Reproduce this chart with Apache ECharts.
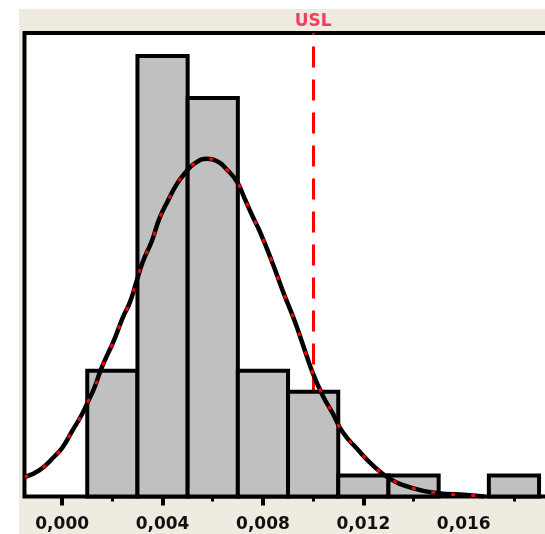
<!DOCTYPE html>
<html>
<head>
<meta charset="utf-8">
<script src="https://cdn.jsdelivr.net/npm/echarts@6/dist/echarts.min.js"></script>
<style>
html,body{margin:0;padding:0;background:#fff;overflow:hidden;}
#c{width:545px;height:534px;}
</style>
</head>
<body>
<div id="c"></div>
<script>
// Histogram bins (value axis) and counts
const binStarts = [0.001, 0.003, 0.005, 0.007, 0.009, 0.011, 0.013, 0.015, 0.017];
const binEnds   = [0.003, 0.005, 0.007, 0.009, 0.011, 0.013, 0.015, 0.017, 0.019];
const counts    = [6, 21, 19, 6, 5, 1, 1, 0, 1];

// Fitted curve
const curveX = [-0.00149, -0.00090, -0.00030, 0.00002, 0.00042, 0.00078, 0.00102, 0.00129, 0.00156,
  0.00209, 0.00241, 0.00269, 0.00297, 0.00321, 0.00357, 0.00388, 0.00420, 0.00456, 0.00488, 0.00528,
  0.00576, 0.00616, 0.00656, 0.00696, 0.00727, 0.00759, 0.00787, 0.00835, 0.00879, 0.00926, 0.00966,
  0.00998, 0.01038, 0.01078, 0.01118, 0.01173, 0.01237, 0.01305, 0.01396, 0.01492, 0.01612, 0.01683];
const curveY = [0.93, 1.26, 1.92, 2.35, 3.16, 3.90, 4.50, 5.20, 6.10,
  7.52, 8.52, 9.23, 10.28, 11.18, 12.17, 13.27, 14.07, 14.88, 15.40, 15.88,
  16.10, 16.00, 15.59, 15.02, 14.21, 13.35, 12.65, 11.23, 9.80, 8.38, 7.00,
  5.90, 4.82, 3.96, 3.06, 2.30, 1.50, 0.85, 0.40, 0.17, 0.07, 0.0];

const USL = 0.0098;
const usLabel = 'USL';
const majorTicks = [0, 0.004, 0.008, 0.012];
const labelTicks = [0, 0.004, 0.008, 0.012, 0.016];
const minorTicks = [0.002, 0.006, 0.010, 0.014, 0.018];
const xMin = -0.0015, xMax = 0.0195, yMax = 22.1;

const barData = binStarts.map((s, i) => [s, binEnds[i], counts[i]]);
const curveData = curveX.map((x, i) => [x, curveY[i]]);

const chart = echarts.init(document.getElementById('c'), null, {renderer: 'canvas'});
chart.setOption({
  animation: false,
  backgroundColor: '#ffffff',
  graphic: [{
    type: 'rect', z: -10,
    shape: {x: 19, y: 9, width: 540, height: 540},
    style: {fill: '#EFEBE0'}
  }],
  grid: {
    left: 24.5, top: 33, width: 527.1, height: 463.5,
    outerBoundsMode: 'none', containLabel: false,
    show: true, backgroundColor: '#ffffff', borderColor: '#000000', borderWidth: 4
  },
  xAxis: [{
    type: 'value', min: xMin, max: xMax, position: 'bottom',
    axisLine: {show: false},
    splitLine: {show: false},
    axisTick: {show: true, customValues: majorTicks, length: 9, lineStyle: {color: '#000', width: 4}},
    axisLabel: {
      show: true, customValues: labelTicks, margin: 20,
      formatter: v => v.toFixed(3).replace('.', ','),
      color: '#111', fontFamily: 'DejaVu Sans', fontSize: 17, fontWeight: 'bold'
    }
  }, {
    type: 'value', min: xMin, max: xMax, position: 'bottom',
    axisLine: {show: false},
    splitLine: {show: false},
    axisTick: {show: true, customValues: minorTicks, length: 5, lineStyle: {color: '#000', width: 3}},
    axisLabel: {show: false}
  }],
  yAxis: {type: 'value', min: 0, max: yMax, show: false, splitLine: {show: false}},
  series: [{
    type: 'custom',
    z: 2,
    xAxisIndex: 0,
    data: barData,
    renderItem: function (params, api) {
      const c = api.value(2);
      if (!c) return null;
      const p0 = api.coord([api.value(0), c]);
      const p1 = api.coord([api.value(1), 0]);
      return {
        type: 'rect',
        shape: {x: p0[0], y: p0[1], width: p1[0] - p0[0], height: p1[1] - p0[1]},
        style: {fill: '#C0C0C0', stroke: '#000000', lineWidth: 4}
      };
    },
    markLine: {
      z: 1, silent: true, symbol: 'none', animation: false,
      lineStyle: {color: '#FF0000', width: 3, type: [21, 12], dashOffset: 0},
      label: {
        show: true, position: 'end', formatter: usLabel, distance: 3,
        color: '#F04060', fontFamily: 'DejaVu Sans', fontSize: 17, fontWeight: 'bold'
      },
      data: [{xAxis: USL}]
    }
  }, {
    type: 'line', z: 3, xAxisIndex: 0,
    data: curveData, showSymbol: false, symbol: 'none', smooth: 0.5,
    lineStyle: {color: '#000000', width: 4.5}
  }, {
    type: 'line', z: 4, xAxisIndex: 0,
    data: curveData, showSymbol: false, symbol: 'none', smooth: 0.5,
    lineStyle: {color: '#FF0000', width: 3, type: [4, 16]}
  }]
});
</script>
</body>
</html>
